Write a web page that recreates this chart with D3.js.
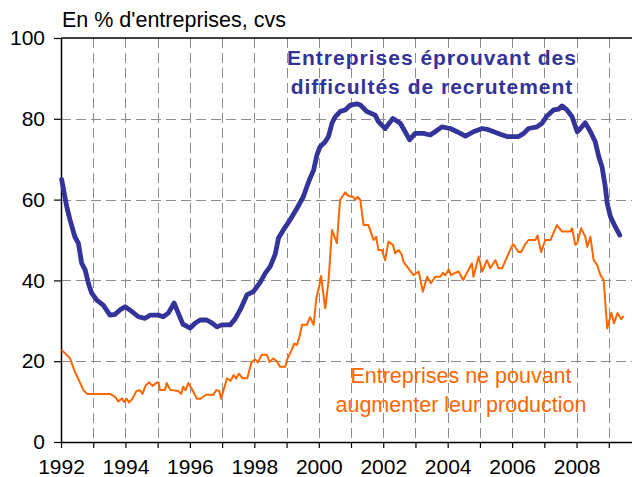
<!DOCTYPE html>
<html>
<head>
<meta charset="utf-8">
<script src="https://cdn.jsdelivr.net/npm/d3@7"></script>
<style>
  body { margin: 0; background: #fff; }
  text { font-family: "Liberation Sans", Arial, sans-serif; }
</style>
</head>
<body>
<div id="root"></div>
<script>
// séries (années décimales, % d'entreprises)
var recrutYears = [1992.02,1992.18,1992.28,1992.43,1992.54,1992.64,1992.75,1992.85,1992.95,1993.11,1993.31,1993.52,1993.68,1993.83,1993.99,1994.20,1994.40,1994.61,1994.76,1995.02,1995.17,1995.33,1995.51,1995.64,1995.78,1996.01,1996.16,1996.32,1996.52,1996.68,1996.84,1996.99,1997.25,1997.40,1997.56,1997.77,1997.97,1998.18,1998.34,1998.49,1998.65,1998.75,1998.90,1999.11,1999.32,1999.52,1999.63,1999.73,1999.84,1999.94,2000.04,2000.20,2000.30,2000.41,2000.51,2000.66,2000.82,2000.98,2001.18,2001.29,2001.49,2001.75,2001.85,2002.06,2002.30,2002.53,2002.68,2002.82,2002.99,2003.25,2003.46,2003.61,2003.82,2004.08,2004.29,2004.55,2004.80,2005.07,2005.22,2005.43,2005.63,2005.84,2006.20,2006.36,2006.51,2006.77,2006.93,2007.08,2007.29,2007.44,2007.55,2007.70,2007.86,2008.02,2008.12,2008.27,2008.43,2008.58,2008.69,2008.79,2008.89,2008.95,2009.05,2009.20,2009.34];
var recrutValues = [65,58.2,55,50.8,49.2,44.3,42.6,39.3,36.9,35.1,33.9,31.4,31.6,32.7,33.5,32.3,31,30.6,31.4,31.4,31,31.9,34.4,31.9,29.2,28.2,29.4,30.2,30.2,29.5,28.5,29,29,30.4,32.7,36.4,37.2,39.5,41.8,43.4,46.5,50.5,52.5,55,57.8,60.7,63.2,65.3,67.3,71,73.1,74.3,75.6,78.9,80.5,81.8,82.2,83.4,83.7,83.4,81.8,80.9,79.3,77.6,80.1,78.9,76.8,74.8,76.4,76.4,76,76.8,78,77.6,76.8,75.7,76.8,77.6,77.4,76.8,76.2,75.6,75.6,76.4,77.6,78,78.9,80.7,82.2,82.4,83.2,82.2,80.5,76.8,77.6,79,76.8,74.3,70.6,68.1,63.2,59.1,55.8,53.3,51.2];

var prodYears = [1992.02,1992.28,1992.43,1992.59,1992.69,1992.81,1993.52,1993.68,1993.78,1993.89,1993.96,1994.04,1994.11,1994.20,1994.34,1994.45,1994.53,1994.62,1994.73,1994.84,1994.97,1995.03,1995.07,1995.23,1995.28,1995.39,1995.64,1995.73,1995.79,1995.86,1995.95,1996.06,1996.22,1996.33,1996.50,1996.73,1996.81,1996.91,1996.97,1997.15,1997.26,1997.36,1997.43,1997.52,1997.63,1997.78,1997.91,1998.02,1998.11,1998.23,1998.39,1998.47,1998.59,1998.70,1998.80,1998.96,1999.01,1999.16,1999.24,1999.32,1999.39,1999.48,1999.63,1999.73,1999.84,1999.92,2000.02,2000.07,2000.20,2000.30,2000.41,2000.56,2000.66,2000.82,2000.92,2001.06,2001.13,2001.20,2001.29,2001.39,2001.54,2001.70,2001.78,2001.85,2001.96,2002.06,2002.16,2002.30,2002.37,2002.48,2002.58,2002.63,2002.74,2002.94,2003.10,2003.23,2003.36,2003.48,2003.61,2003.77,2003.85,2003.93,2004.03,2004.10,2004.24,2004.34,2004.48,2004.75,2004.80,2004.96,2005.07,2005.22,2005.32,2005.48,2005.58,2005.69,2005.89,2006.03,2006.20,2006.28,2006.41,2006.51,2006.72,2006.79,2006.90,2007.03,2007.19,2007.39,2007.55,2007.81,2007.86,2007.96,2008.02,2008.14,2008.27,2008.33,2008.43,2008.53,2008.64,2008.74,2008.84,2008.95,2009.08,2009.16,2009.27,2009.39,2009.46];
var prodValues = [22.8,20.7,17.4,14.7,12.9,11.9,11.9,11.2,10,10.8,9.9,10.7,9.8,10.5,12.6,12.8,11.9,13.9,14.8,13.9,14.7,14.7,12.9,12.9,14.6,12.9,12.6,11.9,13.7,12.8,14.6,13.1,10.7,10.7,11.7,11.7,12.8,12.7,10.7,15.8,15.1,16.6,15.7,16.9,15.8,15.8,19.7,20.5,19.7,21.6,21.6,19.8,20.7,19.9,18.6,18.6,20.3,22.8,24.4,24,25.7,29,29,30.9,29,35.4,38.8,41.1,33.1,39.7,52.5,49.2,59.9,61.8,60.9,60.7,59.9,60.7,59.9,53.7,53.7,50,50.8,47.5,47.5,45,49.6,48.8,46.7,47.5,46.3,44.6,43.4,41.3,42.2,37.2,40.9,39.3,40.9,40.9,41.9,41.3,42.7,41.3,41.9,42.2,40.1,44.2,40.9,45.9,42.2,45,43,45,43,43,46.7,49,47,47,49,50,50,51.1,47,50,50,53.7,52.1,52.1,52.9,48.8,49.2,52.9,50.8,48.3,50.8,45,43.8,41.3,40.1,28.1,32,29.4,31.9,30.4,31.2];

var yTicks = [0, 20, 40, 60, 80, 100];
var xTickYears = d3.range(1992, 2010);
var xLabelYears = [1992, 1994, 1996, 1998, 2000, 2002, 2004, 2006, 2008];

var width = 632, height = 477;
var svg = d3.select("#root")
    .append("svg")
    .attr("width", width)
    .attr("height", height);

var x = d3.scaleLinear().domain([1992, 2009.72]).range([61, 632]);
var y = d3.scaleLinear().domain([0, 100]).range([442, 38]);

// grille pointillée
var grid = svg.append("g").attr("class", "grid")
    .attr("stroke", "#8c8c8c")
    .attr("stroke-width", 1)
    .attr("stroke-dasharray", "10,5");
grid.selectAll(".vgrid")
    .data(xTickYears.slice(1))
    .enter().append("line")
    .attr("x1", d => Math.round(x(d)) + 0.5)
    .attr("x2", d => Math.round(x(d)) + 0.5)
    .attr("y1", y(100)).attr("y2", y(0));
grid.selectAll(".hgrid")
    .data(yTicks.filter(d => d > 0 && d < 100))
    .enter().append("line")
    .attr("x1", x(1992)).attr("x2", x.range()[1])
    .attr("y1", d => Math.round(y(d)) + 0.5)
    .attr("y2", d => Math.round(y(d)) + 0.5);

// cadre du haut
svg.append("line")
    .attr("x1", x(1992)).attr("x2", x.range()[1])
    .attr("y1", y(100)).attr("y2", y(100))
    .attr("stroke", "#000").attr("stroke-width", 1.5);

// axes
var yAxis = svg.append("g")
    .attr("transform", "translate(" + x(1992) + ",0)")
    .call(d3.axisLeft(y).tickValues(yTicks).tickSize(7).tickSizeOuter(0).tickPadding(9));
var xAxis = svg.append("g")
    .attr("transform", "translate(0," + y(0) + ")")
    .call(d3.axisBottom(x).tickValues(xTickYears).tickSize(6).tickSizeOuter(0).tickPadding(11)
        .tickFormat(d => xLabelYears.indexOf(d) >= 0 ? d : ""));
[yAxis, xAxis].forEach(function (g) {
    g.select(".domain").attr("stroke", "#000").attr("stroke-width", 1.5);
    g.selectAll(".tick line").attr("stroke", "#000").attr("stroke-width", 1.2);
    g.selectAll("text").attr("fill", "#000").style("font-size", "21px")
        .style("font-family", "'Liberation Sans', Arial, sans-serif");
});

// courbes
var line = d3.line()
    .x(d => x(d[0]))
    .y(d => y(d[1]));
svg.append("path")
    .datum(prodYears.map((t, i) => [t, prodValues[i]]))
    .attr("d", line)
    .attr("fill", "none")
    .attr("stroke", "#ff6600")
    .attr("stroke-width", 2)
    .attr("stroke-linejoin", "round");
svg.append("path")
    .datum(recrutYears.map((t, i) => [t, recrutValues[i]]))
    .attr("d", line)
    .attr("fill", "none")
    .attr("stroke", "#333399")
    .attr("stroke-width", 4.8)
    .attr("stroke-linejoin", "round")
    .attr("stroke-linecap", "round");

// textes
svg.append("text")
    .attr("x", 62).attr("y", 27)
    .style("font-size", "21.5px")
    .text("En % d'entreprises, cvs");

var blueLabel = svg.append("text")
    .attr("text-anchor", "middle")
    .attr("fill", "#333399")
    .style("font-size", "21px")
    .style("font-weight", "bold")
    .style("letter-spacing", "1px");
blueLabel.append("tspan").attr("x", 432).attr("y", 65).text("Entreprises éprouvant des");
blueLabel.append("tspan").attr("x", 432).attr("y", 94).text("difficultés de recrutement");

var orangeLabel = svg.append("text")
    .attr("text-anchor", "middle")
    .attr("fill", "#ff6600")
    .style("font-size", "21.5px");
orangeLabel.append("tspan").attr("x", 461).attr("y", 383).text("Entreprises ne pouvant");
orangeLabel.append("tspan").attr("x", 461).attr("y", 412).text("augmenter leur production");
</script>
</body>
</html>
